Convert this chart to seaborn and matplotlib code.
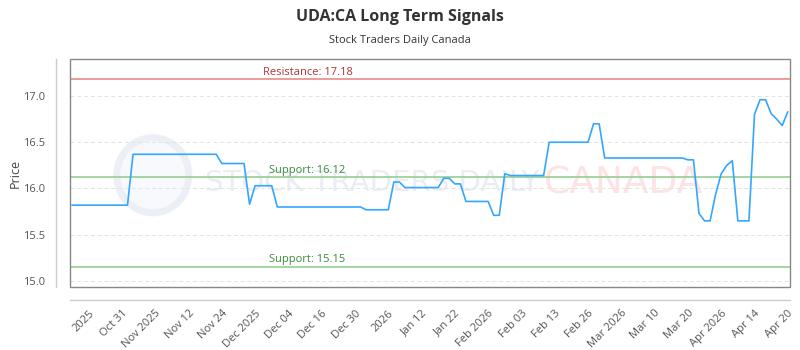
import pandas as pd
import matplotlib
matplotlib.use("Agg")
import matplotlib.pyplot as plt
import matplotlib.patches as mpatches
from matplotlib import font_manager
import seaborn as sns

# closing prices, one per trading session
prices = [
    15.82, 15.82, 15.82, 15.82, 15.82, 15.82, 15.82, 15.82, 15.82, 15.82, 15.82,
    16.37, 16.37, 16.37, 16.37, 16.37, 16.37, 16.37, 16.37, 16.37, 16.37, 16.37, 16.37, 16.37, 16.37, 16.37, 16.37,
    16.27, 16.27, 16.27, 16.27, 16.27,
    15.83,
    16.03, 16.03, 16.03, 16.03,
    15.80, 15.80, 15.80, 15.80, 15.80, 15.80, 15.80, 15.80, 15.80, 15.80, 15.80, 15.80, 15.80, 15.80, 15.80, 15.80,
    15.77, 15.77, 15.77, 15.77, 15.77,
    16.07, 16.07,
    16.01, 16.01, 16.01, 16.01, 16.01, 16.01, 16.01,
    16.11, 16.11,
    16.05, 16.05,
    15.86, 15.86, 15.86, 15.86, 15.86,
    15.71, 15.71,
    16.16,
    16.14, 16.14, 16.14, 16.14, 16.14, 16.14, 16.14,
    16.50, 16.50, 16.50, 16.50, 16.50, 16.50, 16.50, 16.50,
    16.70, 16.70,
    16.33, 16.33, 16.33, 16.33, 16.33, 16.33, 16.33, 16.33, 16.33, 16.33, 16.33, 16.33, 16.33, 16.33, 16.33,
    16.31, 16.31,
    15.73,
    15.65, 15.65,
    15.94, 16.16, 16.25, 16.30,
    15.65, 15.65, 15.65,
    16.80,
    16.96, 16.96,
    16.81, 16.75, 16.68, 16.83,
]

tick_labels = ["2025", "Oct 31", "Nov 2025", "Nov 12", "Nov 24", "Dec 2025", "Dec 04",
               "Dec 16", "Dec 30", "2026", "Jan 12", "Jan 22", "Feb 2026", "Feb 03",
               "Feb 13", "Feb 26", "Mar 2026", "Mar 10", "Mar 20", "Apr 2026", "Apr 14", "Apr 20"]

resistance = 17.18
supports = [16.12, 15.15]

df = pd.DataFrame({"session": range(len(prices)), "price": prices})

sns.set_style("white")
plt.rcParams["font.family"] = ["Open Sans", "DejaVu Sans"]

fig = plt.figure(figsize=(8, 3.5), dpi=100)
ax = fig.add_axes([0.0875, 0.18, 0.9, 0.6514])

# spines first: moving a spine resets the tick objects
for side in ["top", "right"]:
    ax.spines[side].set_visible(False)
ax.spines["left"].set_position(("outward", 10))
ax.spines["bottom"].set_position(("outward", 9))
for side in ["left", "bottom"]:
    ax.spines[side].set_color("#cccccc")
    ax.spines[side].set_linewidth(1)
ax.add_patch(mpatches.Rectangle((0, 0), 1, 1, transform=ax.transAxes, fill=False,
                                edgecolor="#888888", lw=1, clip_on=False, zorder=5))

# watermark
installed = {f.name for f in font_manager.fontManager.ttflist}
if "Liberation Sans Narrow" in installed:
    wm_family, wm_size = "Liberation Sans Narrow", 27
else:
    wm_family, wm_size = "DejaVu Sans", 21
ax.add_patch(mpatches.Ellipse((0.115, 0.49), 0.1, 0.33, transform=ax.transAxes,
                              facecolor="#f8f9fc", edgecolor="#eceff5", lw=5, zorder=0))
ax.text(0.1875, 0.455, "STOCK TRADERS DAILY", transform=ax.transAxes, fontsize=wm_size,
        family=wm_family, color="#eaedf3", va="center", ha="left", zorder=0)
ax.text(0.658, 0.455, "CANADA", transform=ax.transAxes, fontsize=27,
        family="DejaVu Sans", color="#fde3e3", va="center", ha="left", zorder=0)

sns.lineplot(data=df, x="session", y="price", ax=ax, color="#35a6ff", lw=1.2, zorder=3)

ax.axhline(resistance, color="#e88b8b", lw=1.2, zorder=2)
ax.text(0.33, resistance + 0.02, f"Resistance: {resistance}", transform=ax.get_yaxis_transform(),
        ha="center", va="bottom", fontsize=8, color="#b0353a")
for s in supports:
    ax.axhline(s, color="#92cf92", lw=1.2, zorder=2)
    ax.text(0.33, s + 0.02, f"Support: {s}", transform=ax.get_yaxis_transform(),
            ha="center", va="bottom", fontsize=8, color="#3c8a3c")

ax.set_ylim(14.935, 17.40)
ax.set_xlim(-0.36, len(prices) - 1 + 0.4)
ax.set_yticks([15.0, 15.5, 16.0, 16.5, 17.0])
ax.yaxis.grid(True, color="#e3e3e3", ls=(0, (4, 3)), lw=0.7)
ax.set_xticks(range(len(prices) - 1 - 6 * (len(tick_labels) - 1), len(prices), 6))
ax.set_xticklabels(tick_labels)
ax.tick_params(axis="both", length=0, labelsize=8, colors="#555555")
ax.tick_params(axis="y", pad=8)
ax.tick_params(axis="x", pad=6, labelrotation=45)
for lbl in ax.get_xticklabels():
    lbl.set_horizontalalignment("right")
    lbl.set_rotation_mode("anchor")

ax.set_xlabel("")
ax.set_ylabel("Price", fontsize=9, color="#444444")
ax.yaxis.set_label_coords(-0.076, 0.5)
ax.yaxis.label.set_verticalalignment("center")

fig.text(0.5, 0.952, "UDA:CA Long Term Signals", ha="center", va="center",
         fontsize=11.5, fontweight="bold", color="#333333")
fig.text(0.5, 0.885, "Stock Traders Daily Canada", ha="center", va="center",
         fontsize=8, color="#333333")

fig.savefig("out.png", dpi=100)
